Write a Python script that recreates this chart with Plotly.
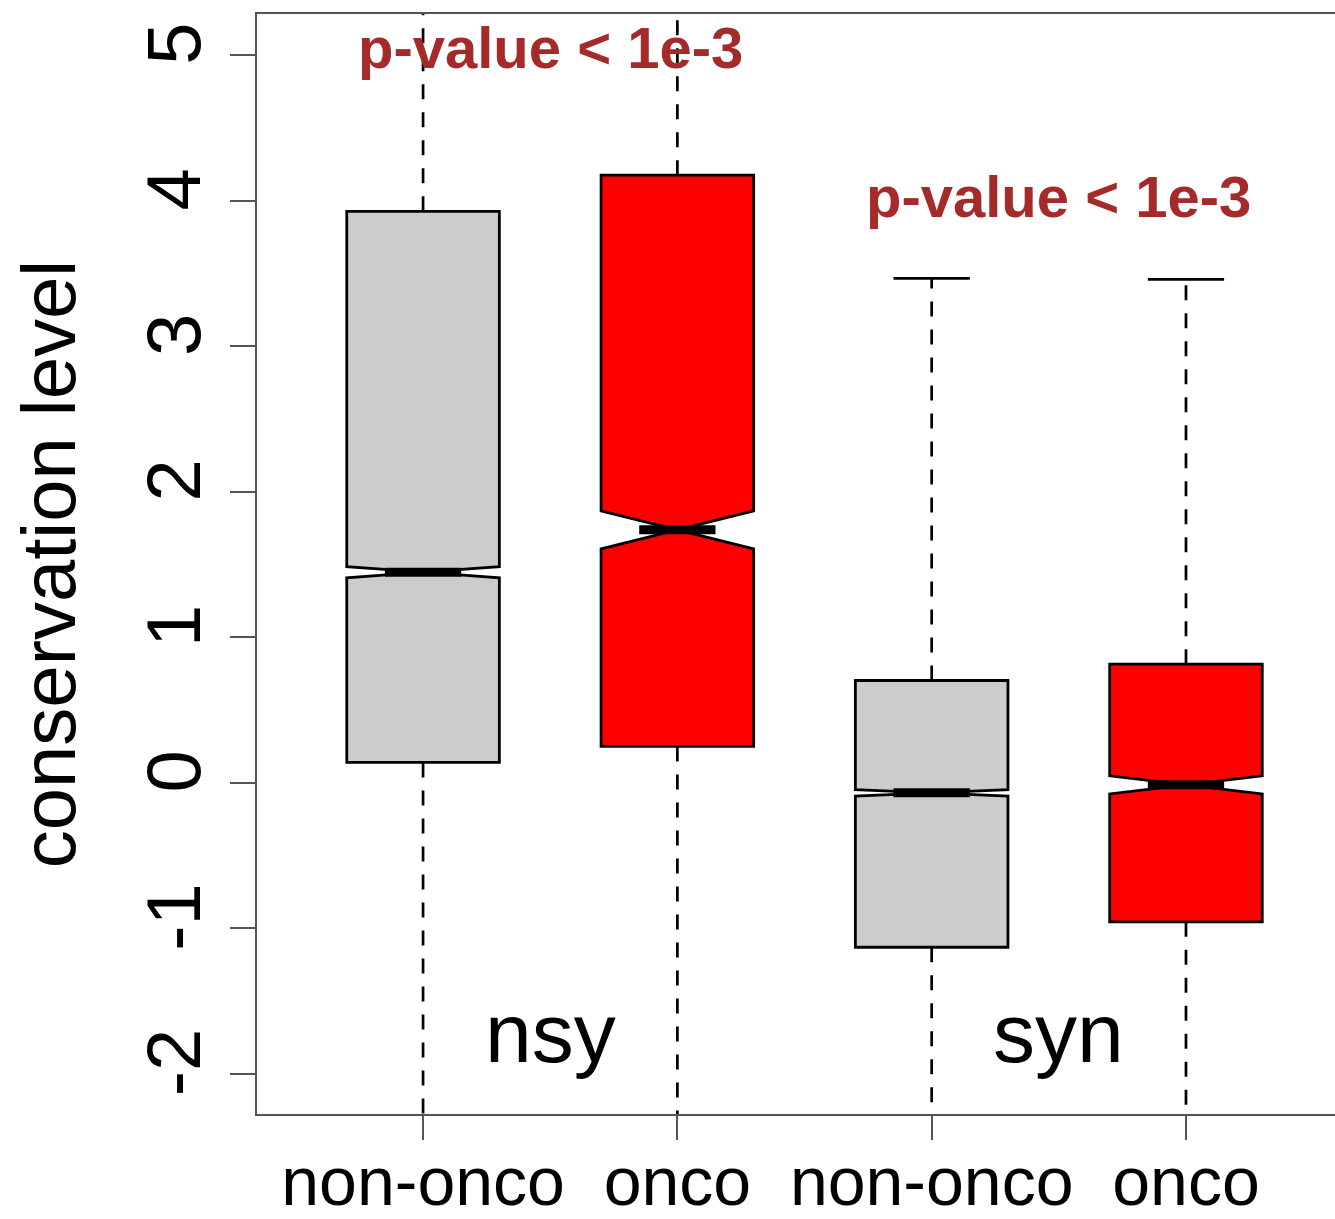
import plotly.graph_objects as go

# ---- data ----
positions = [1, 2, 3, 4]
classes = ["non-onco", "onco", "non-onco", "onco"]
groups = ["nsy", "syn"]
q1 = [0.14, 0.25, -1.13, -0.955]
median = [1.447, 1.738, -0.069, -0.014]
q3 = [3.927, 4.175, 0.703, 0.815]
notchspan = [0.038, 0.13, 0.022, 0.062]
upper_whisker = [6.2, 6.4, 3.466, 3.459]
lower_whisker = [-3.6, -3.4, -3.9, -3.6]
fill_colors = ["#CCCCCC", "#FF0000", "#CCCCCC", "#FF0000"]
pvalue_text = ["p-value < 1e-3", "p-value < 1e-3"]
pvalue_y = [5.05, 4.03]
group_label_y = -1.72
yticks = [-2, -1, 0, 1, 2, 3, 4, 5]

BOX_W = 0.6
STAPLE_HALF = BOX_W / 4
MED_HALF = BOX_W / 4
FONT = "Liberation Sans, Arial, Helvetica, sans-serif"

fig = go.Figure()

# whiskers (dashed) and staples
for p, lo, hi, a, b in zip(positions, lower_whisker, upper_whisker, q1, q3):
    fig.add_trace(go.Scatter(x=[p, p, None, p, p], y=[b, hi, None, a, lo], mode="lines",
                             line=dict(color="black", width=2.7, dash="15px,13px"),
                             showlegend=False, hoverinfo="skip"))
    fig.add_trace(go.Scatter(x=[p - STAPLE_HALF, p + STAPLE_HALF, None, p - STAPLE_HALF, p + STAPLE_HALF],
                             y=[hi, hi, None, lo, lo], mode="lines",
                             line=dict(color="black", width=2.7),
                             showlegend=False, hoverinfo="skip"))

# notched boxes
for p, a, m, b, ns, fc in zip(positions, q1, median, q3, notchspan, fill_colors):
    fig.add_trace(go.Box(x=[p], q1=[a], median=[m], q3=[b], lowerfence=[a], upperfence=[b],
                         notched=True, notchspan=[ns], notchwidth=0.5, width=BOX_W,
                         fillcolor=fc, line=dict(color="black", width=2.8),
                         boxpoints=False, showlegend=False))

# thick median lines
for p, m in zip(positions, median):
    fig.add_trace(go.Scatter(x=[p - MED_HALF, p + MED_HALF], y=[m, m], mode="lines",
                             line=dict(color="black", width=9),
                             showlegend=False, hoverinfo="skip"))

annotations = []
for i, g in enumerate(groups):
    xc = (positions[2 * i] + positions[2 * i + 1]) / 2
    annotations.append(dict(x=xc, y=pvalue_y[i], text="<b>%s</b>" % pvalue_text[i], showarrow=False,
                            xanchor="center", yanchor="middle",
                            font=dict(family=FONT, size=58, color="#A52A2A")))
    annotations.append(dict(x=xc, y=group_label_y, text=g, showarrow=False,
                            xanchor="center", yanchor="middle",
                            font=dict(family=FONT, size=84, color="black")))

fig.update_layout(
    width=1335, height=1219,
    margin=dict(l=257, r=0, t=14, b=101),
    paper_bgcolor="white", plot_bgcolor="white",
    font=dict(family=FONT, color="black"),
    annotations=annotations,
    xaxis=dict(range=[0.347, 4.586], tickmode="array", tickvals=positions, ticktext=classes,
               showgrid=False, zeroline=False, showline=True, mirror=True, linecolor="#555555",
               linewidth=2, ticks="outside", ticklen=24, tickwidth=2, tickcolor="#555555",
               tickfont=dict(size=68, family=FONT), ticklabelstandoff=-17),
    yaxis=dict(range=[-2.2756, 5.2825], tickmode="array", tickvals=yticks,
               ticktext=[str(v) for v in yticks], tickangle=-90,
               showgrid=False, zeroline=False, showline=True, mirror=False, linecolor="#555555",
               linewidth=2, ticks="outside", ticklen=25, tickwidth=2, tickcolor="#555555",
               tickfont=dict(size=76, family=FONT),
               title=dict(text="conservation level", font=dict(size=76, family=FONT), standoff=30)),
)

post = (
    "document.documentElement.style.margin='0';"
    "document.documentElement.style.overflow='hidden';"
    "document.body.style.margin='0';"
    "document.body.style.overflow='hidden';"
    "var gd=document.getElementById('{plot_id}');"
    "gd.style.position='absolute';gd.style.left='0px';gd.style.top='0px';"
)
fig.write_html("out.html", config={"displayModeBar": False}, post_script=post)
